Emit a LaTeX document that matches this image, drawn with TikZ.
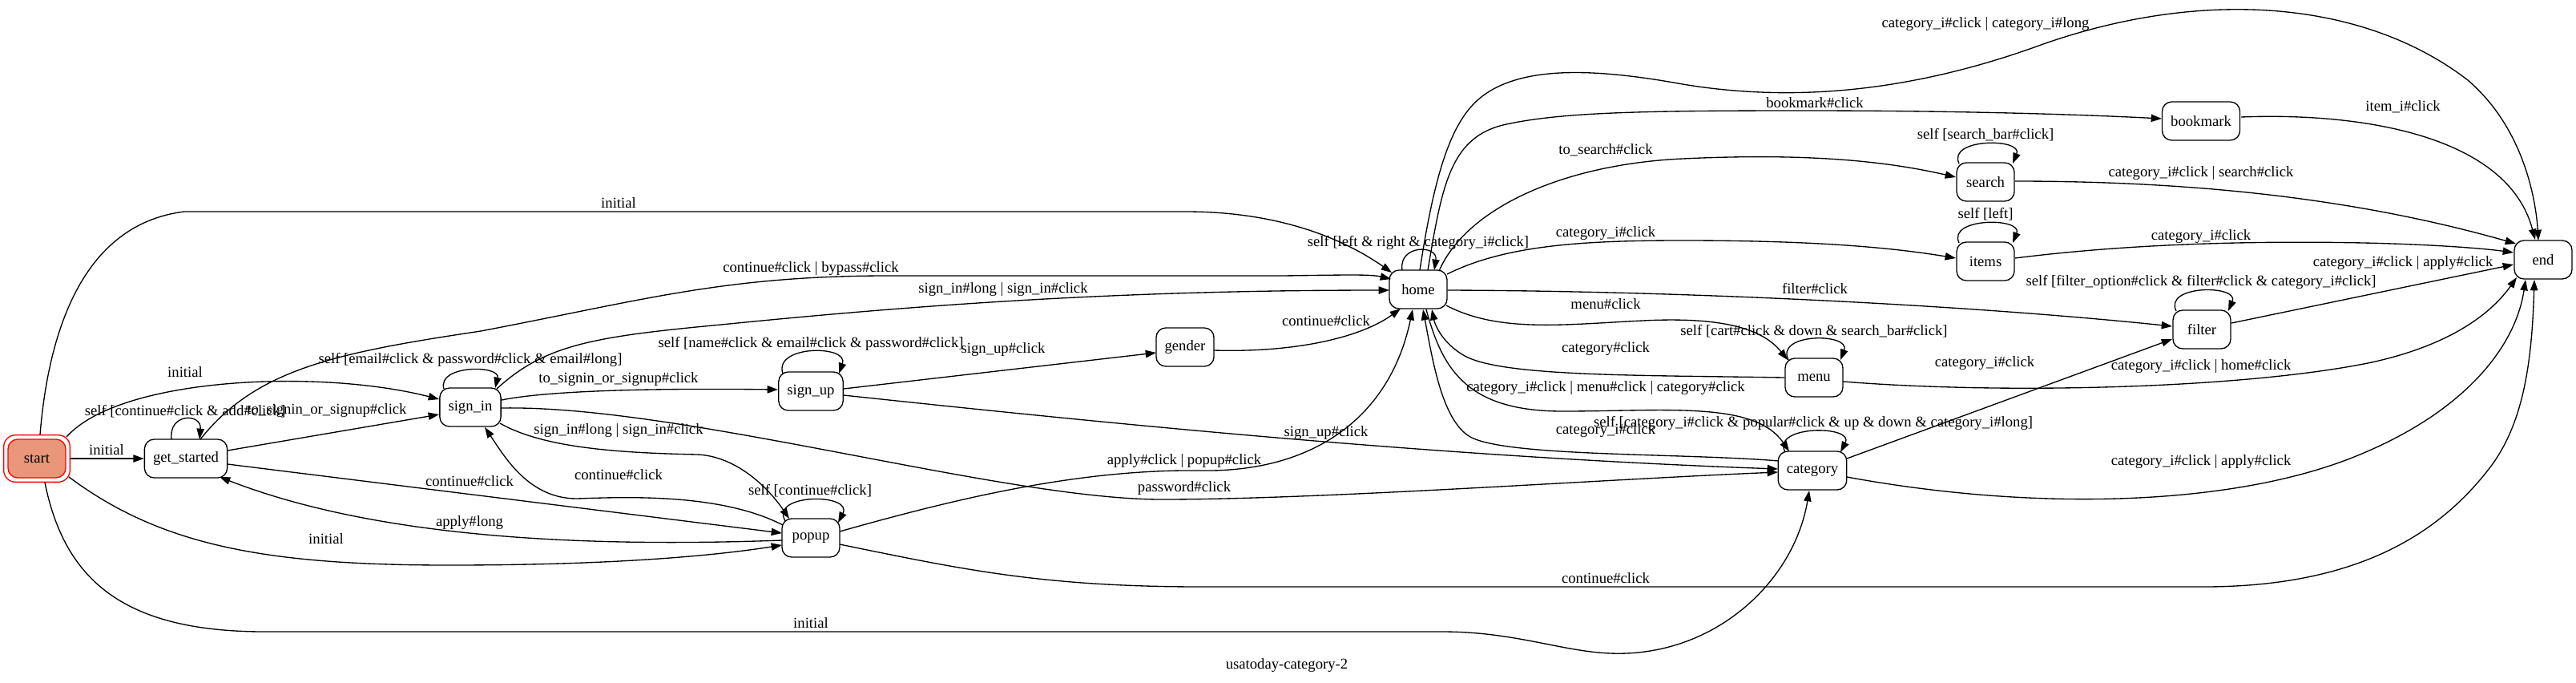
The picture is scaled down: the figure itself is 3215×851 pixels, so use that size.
\documentclass[tikz,border=0pt]{standalone}
\usepackage{fontspec}
\setmainfont{Liberation Serif}
\usetikzlibrary{arrows.meta,calc}
\definecolor{startfill}{HTML}{E9967A}
\begin{document}
\begin{tikzpicture}[x=0.75pt,y=-0.75pt,
  state/.style={draw, rounded corners=9pt, minimum width=54pt, minimum height=36pt, inner xsep=8pt, line width=1pt, font=\fontsize{14pt}{16pt}\selectfont},
  edge/.style={draw, line width=1pt, -{Triangle[length=10pt,width=7pt]}},
  lab/.style={inner sep=0pt, font=\fontsize{14pt}{16pt}\selectfont}]
\useasboundingbox (0,0) rectangle (3215,851);
% nodes
\node[state, draw=red, minimum width=62pt, minimum height=44pt, rounded corners=11pt] (start) at (46,572) {};
\node[state, draw=red, fill=startfill] (startin) at (46,572) {start};
\node[state] (gs) at (232,572) {get\_started};
\node[state] (si) at (587,508) {sign\_in};
\node[state] (su) at (1012,488) {sign\_up};
\node[state] (pop) at (1012,671) {popup};
\node[state] (gen) at (1479,433) {gender};
\node[state] (home) at (1770,361) {home};
\node[state] (menu) at (2264,471) {menu};
\node[state] (cat) at (2262,587) {category};
\node[state] (search) at (2478,227) {search};
\node[state] (items) at (2478,326) {items};
\node[state] (book) at (2747,151) {bookmark};
\node[state] (filter) at (2748,411) {filter};
\node[state] (endn) at (3174,324) {end};
% edges
\draw[edge] (start.east) -- (gs.west);
\draw[edge] ($(start)+(37,-27)$) .. controls (150,470) and (400,460) .. ($(si)+(-39,-10)$);
\draw[edge] ($(start)+(4,-30)$) .. controls (60,420) and (100,280) .. (230,264) -- (1480,264) .. controls (1600,264) and (1680,300) .. ($(home)+(-33,-21)$);
\draw[edge] ($(start)+(40,23)$) .. controls (200,680) and (330,705) .. (560,705) .. controls (750,705) and (880,695) .. ($(pop)+(-36,9)$);
\draw[edge] ($(start)+(10,30)$) .. controls (80,720) and (150,788) .. (330,788) -- (1800,788) .. controls (1900,788) and (1960,818) .. (2030,815) .. controls (2150,810) and (2240,720) .. ($(cat)+(-4,25)$);
\draw[edge] ($(gs)+(-18,-24)$) .. controls (210,515) and (252,515) .. ($(gs)+(17,-24)$);
\draw[edge] ($(gs)+(52,-10)$) -- ($(si)+(-39,9)$);
\draw[edge] ($(gs)+(18,-24)$) .. controls (320,460) and (420,440) .. (600,413) .. controls (800,375) and (900,345) .. (1100,344) -- (1600,344) .. controls (1680,343) and (1710,342) .. ($(home)+(-34,-13)$);
\draw[edge] ($(si)+(-33,-23)$) .. controls (545,455) and (625,455) .. ($(si)+(31,-24)$);
\draw[edge] ($(si)+(33,-23)$) .. controls (680,430) and (740,420) .. (900,405) .. controls (1150,380) and (1400,362) .. ($(home)+(-36,1)$);
\draw[edge] ($(si)+(39,-9)$) .. controls (680,488) and (800,484) .. ($(su)+(-41,-2)$);
\draw[edge] ($(si)+(39,1)$) .. controls (850,505) and (1250,623) .. (1450,623) .. controls (1650,623) and (2000,598) .. ($(cat)+(-43,2)$);
\draw[edge] ($(si)+(37,20)$) .. controls (680,560) and (780,565) .. (870,567) .. controls (920,569) and (960,610) .. ($(pop)+(-27,-24)$);
\draw[edge] ($(pop)+(-35,-16)$) .. controls (900,615) and (780,620) .. (720,622) .. controls (660,622) and (630,570) .. ($(si)+(18,25)$);
\draw[edge] ($(gs)+(52,7)$) -- ($(pop)+(-36,-6)$);
\draw[edge] ($(pop)+(-36,3)$) .. controls (750,682) and (480,675) .. ($(gs)+(42,23)$);
\draw[edge] ($(pop)+(-32,-21)$) .. controls (960,615) and (1065,615) .. ($(pop)+(34,-19)$);
\draw[edge] ($(pop)+(36,-8)$) .. controls (1200,620) and (1350,585) .. (1500,587) .. controls (1640,589) and (1735,520) .. ($(home)+(-7,25)$);
\draw[edge] ($(su)+(41,-3)$) -- ($(gen)+(-36,7)$);
\draw[edge] ($(su)+(-35,-22)$) .. controls (965,430) and (1060,430) .. ($(su)+(35,-22)$);
\draw[edge] ($(su)+(41,5)$) .. controls (1400,530) and (1800,570) .. ($(cat)+(-43,-2)$);
\draw[edge] ($(gen)+(36,4)$) .. controls (1620,440) and (1700,420) .. ($(home)+(-22,24)$);
\draw[edge] ($(home)+(-20,-24)$) .. controls (1745,305) and (1795,305) .. ($(home)+(20,-24)$);
\draw[edge] ($(home)+(2,-24)$) .. controls (1790,220) and (1810,150) .. (1850,120) .. controls (1900,82) and (1990,85) .. (2100,105) .. controls (2250,130) and (2400,110) .. (2550,55) .. controls (2750,-15) and (2950,0) .. (3080,100) .. controls (3150,160) and (3165,250) .. ($(endn)+(-6,-24)$);
\draw[edge] ($(home)+(12,-24)$) .. controls (1800,230) and (1810,170) .. (1880,155) .. controls (1950,140) and (2050,138) .. (2250,138) .. controls (2450,138) and (2600,143) .. ($(book)+(-49,-3)$);
\draw[edge] ($(home)+(26,-23)$) .. controls (1830,260) and (1950,205) .. (2100,198) .. controls (2250,191) and (2350,200) .. ($(search)+(-37,-6)$);
\draw[edge] ($(search)+(-33,-23)$) .. controls (2430,172) and (2525,172) .. ($(search)+(34,-23)$);
\draw[edge] ($(search)+(37,-1)$) .. controls (2750,226) and (2950,250) .. ($(endn)+(-34,-20)$);
\draw[edge] ($(home)+(36,-19)$) .. controls (1880,305) and (1980,300) .. (2100,300) .. controls (2250,300) and (2350,307) .. ($(items)+(-37,-4)$);
\draw[edge] ($(items)+(-33,-23)$) .. controls (2430,271) and (2525,271) .. ($(items)+(34,-23)$);
\draw[edge] ($(items)+(37,-4)$) .. controls (2650,305) and (2800,300) .. (2950,303) .. controls (3040,305) and (3100,310) .. ($(endn)+(-37,-9)$);
\draw[edge] ($(home)+(36.5,1)$) .. controls (2100,363) and (2450,380) .. ($(filter)+(-37,-4)$);
\draw[edge] ($(filter)+(-32,-23)$) .. controls (2700,355) and (2795,355) .. ($(filter)+(33,-23)$);
\draw[edge] ($(filter)+(37,-8)$) -- ($(endn)+(-37,6)$);
\draw[edge] ($(home)+(35,20)$) .. controls (1870,415) and (1950,405) .. (2050,400) .. controls (2150,395) and (2200,410) .. ($(menu)+(-33,-22)$);
\draw[edge] ($(menu)+(-32,-22)$) .. controls (2215,415) and (2310,415) .. ($(menu)+(33,-22)$);
\draw[edge] ($(menu)+(-37,0)$) .. controls (2050,468) and (1880,470) .. (1830,445) .. controls (1805,432) and (1792,410) .. ($(home)+(17,25)$);
\draw[edge] ($(menu)+(36.5,5)$) .. controls (2500,492) and (2800,485) .. (2960,452) .. controls (3060,430) and (3110,390) .. ($(endn)+(-33,22)$);
\draw[edge] ($(home)+(10,25)$) .. controls (1800,460) and (1830,513) .. (1950,513) .. controls (2080,513) and (2190,500) .. ($(cat)+(-29,-24)$);
\draw[edge] ($(cat)+(-42,-12)$) .. controls (2100,565) and (1880,570) .. (1835,545) .. controls (1800,525) and (1788,450) .. ($(home)+(6,25)$);
\draw[edge] ($(cat)+(-34,-23)$) .. controls (2210,530) and (2315,530) .. ($(cat)+(35,-23)$);
\draw[edge] ($(cat)+(43,-15)$) -- ($(filter)+(-37,12)$);
\draw[edge] ($(cat)+(43,8)$) .. controls (2550,640) and (2800,630) .. (2950,565) .. controls (3080,510) and (3140,430) .. ($(endn)+(-22,25)$);
\draw[edge] ($(pop)+(36,8)$) .. controls (1200,710) and (1300,732) .. (1500,732) -- (2750,732) .. controls (2950,732) and (3050,660) .. (3110,580) .. controls (3150,525) and (3160,450) .. ($(endn)+(-11,25)$);
\draw[edge] ($(book)+(50,-5)$) .. controls (2950,140) and (3130,170) .. ($(endn)+(-10,-25)$);
% labels
\node[lab] (l1) at (133,561) {initial};
\node[lab] (l2) at (231,464) {initial};
\node[lab] (l3) at (772,253) {initial};
\node[lab] (l4) at (407,672) {initial};
\node[lab] (l5) at (1012,777) {initial};
\node[lab] (l6) at (231,513) {self [continue\#click \& add\#click]};
\node[lab] (l7) at (408,512) {to\_signin\_or\_signup\#click};
\node[lab] (l8) at (1012,335) {continue\#click | bypass\#click};
\node[lab] (l9) at (587,449) {self [email\#click \& password\#click \& email\#long]};
\node[lab] (l10) at (1252,361) {sign\_in\#long | sign\_in\#click};
\node[lab] (l11) at (772,473) {to\_signin\_or\_signup\#click};
\node[lab] (l12) at (1478,609) {password\#click};
\node[lab] (l13) at (772,537) {sign\_in\#long | sign\_in\#click};
\node[lab] (l14) at (772,592) {continue\#click};
\node[lab] (l15) at (586,600) {continue\#click};
\node[lab] (l16) at (586,652) {apply\#long};
\node[lab] (l17) at (1011,612) {self [continue\#click]};
\node[lab] (l18) at (1478,575) {apply\#click | popup\#click};
\node[lab] (l19) at (1252,436) {sign\_up\#click};
\node[lab] (l20) at (1012,429) {self [name\#click \& email\#click \& password\#click]};
\node[lab] (l21) at (1655,540) {sign\_up\#click};
\node[lab] (l22) at (1655,400) {continue\#click};
\node[lab] (l23) at (1770,303) {self [left \& right \& category\_i\#click]};
\node[lab] (l24) at (2478,30) {category\_i\#click | category\_i\#long};
\node[lab] (l25) at (2265,128) {bookmark\#click};
\node[lab] (l26) at (2004,187) {to\_search\#click};
\node[lab] (l27) at (2478,168) {self [search\_bar\#click]};
\node[lab] (l28) at (2747,216) {category\_i\#click | search\#click};
\node[lab] (l29) at (2004,291) {category\_i\#click};
\node[lab] (l30) at (2478,267) {self [left]};
\node[lab] (l31) at (2747,295) {category\_i\#click};
\node[lab] (l32) at (2265,360) {filter\#click};
\node[lab] (l33) at (2747,352) {self [filter\_option\#click \& filter\#click \& category\_i\#click]};
\node[lab] (l34) at (2999,328) {category\_i\#click | apply\#click};
\node[lab] (l35) at (2004,379) {menu\#click};
\node[lab] (l36) at (2264,413) {self [cart\#click \& down \& search\_bar\#click]};
\node[lab] (l37) at (2004,435) {category\#click};
\node[lab] (l38) at (2747,457) {category\_i\#click | home\#click};
\node[lab] (l39) at (2004,484) {category\_i\#click | menu\#click | category\#click};
\node[lab] (l40) at (2004,537) {category\_i\#click};
\node[lab] (l41) at (2263,528) {self [category\_i\#click \& popular\#click \& up \& down \& category\_i\#long]};
\node[lab] (l42) at (2477,453) {category\_i\#click};
\node[lab] (l43) at (2747,576) {category\_i\#click | apply\#click};
\node[lab] (l44) at (2004,721) {continue\#click};
\node[lab] (l45) at (2999,133) {item\_i\#click};
\node[lab] (cap) at (1606,830) {usatoday-category-2};
\end{tikzpicture}
\end{document}
